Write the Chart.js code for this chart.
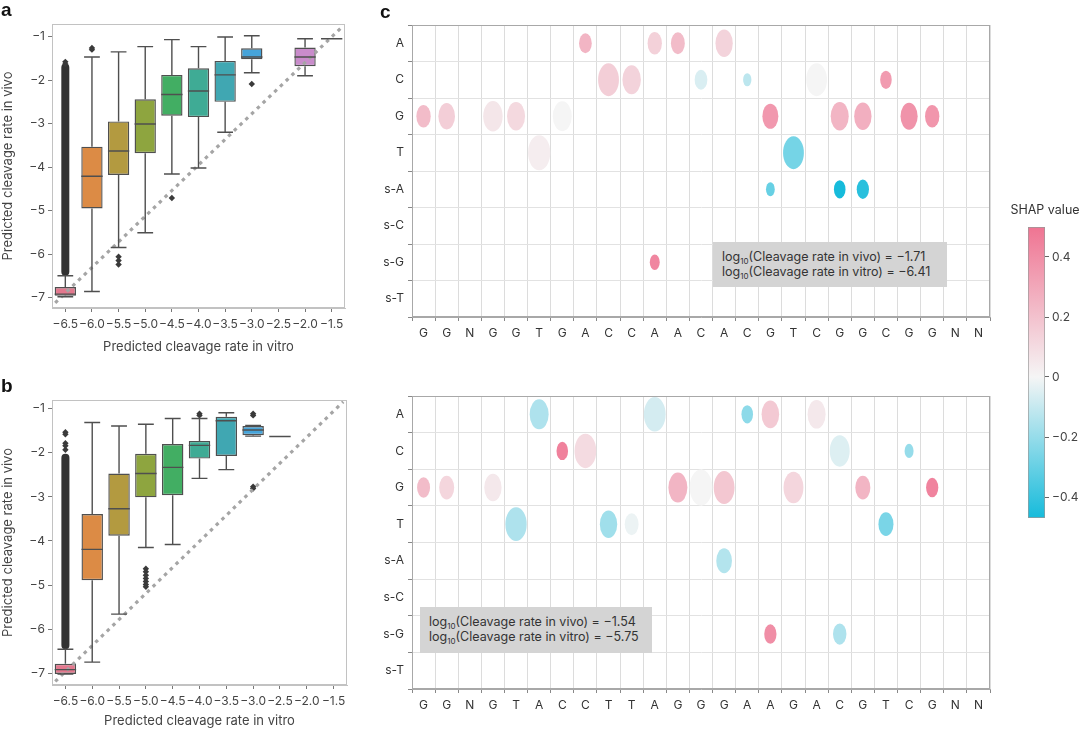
<!DOCTYPE html>
<html>
<head>
<meta charset="utf-8">
<script src="https://cdn.jsdelivr.net/npm/chart.js@4.4.0/dist/chart.umd.min.js"></script>
<style>
  body { margin: 0; background: #fff; }
  #wrap { position: relative; width: 1080px; height: 731px; overflow: hidden; font-family: Inter, "Open Sans", sans-serif; color: #333; }
  canvas { position: absolute; }
  .lbl { position: absolute; font: bold 19px "Liberation Sans", Arial, sans-serif; color: #111; line-height: 19px; }
  .note { position: absolute; background: #d4d4d4; font-size: 12.5px; line-height: 15px; color: #333; padding: 7px 0 0 9px; box-sizing: border-box; white-space: nowrap; }
  .note sub { font-size: 8px; line-height: 0; vertical-align: -3px; }
  .cbtitle { position: absolute; left: 1005px; top: 202px; width: 80px; text-align: center; font-size: 12.5px; line-height: 16px; color: #333; white-space: nowrap; }
</style>
</head>
<body>
<div id="wrap">
  <canvas id="boxA" width="360" height="365" style="left:0;top:0"></canvas>
  <canvas id="boxB" width="360" height="361" style="left:0;top:370px"></canvas>
  <canvas id="seqTop" width="620" height="345" style="left:380px;top:0"></canvas>
  <canvas id="seqBot" width="620" height="361" style="left:380px;top:370px"></canvas>
  <canvas id="cbar" width="85" height="335" style="left:995px;top:195px"></canvas>
  <div class="lbl" style="left:1px;top:0px">a</div>
  <div class="lbl" style="left:1px;top:376px">b</div>
  <div class="lbl" style="left:380px;top:2px">c</div>
  <div class="cbtitle">SHAP value</div>
  <div class="note" style="left:713px;top:242px;width:234px;height:45px">log<sub>10</sub>(Cleavage rate in vivo) = −1.71<br>log<sub>10</sub>(Cleavage rate in vitro) = −6.41</div>
  <div class="note" style="left:420px;top:607px;width:232px;height:46px">log<sub>10</sub>(Cleavage rate in vivo) = −1.54<br>log<sub>10</sub>(Cleavage rate in vitro) = −5.75</div>
</div>
<script>
// ---- box plots (a, b) ----
var vitroTicks = [-6.5, -6.0, -5.5, -5.0, -4.5, -4.0, -3.5, -3.0, -2.5, -2.0, -1.5];
var vivoTicks = [-7, -6, -5, -4, -3, -2, -1];
var boxColors = ['#e3788e', '#dc8b45', '#b39a40', '#8ea53f', '#42ae63', '#3fab95', '#40a7b2', '#46a4da', '#8f98d8', '#c98ccb', '#d886c0'];

// panel a
var aX   = [-6.5, -6.0, -5.5, -5.0, -4.5, -4.0, -3.5, -3.0, -2.0, -1.5];
var aLo  = [-6.98, -6.86, -5.85, -5.51, -4.16, -4.02, -3.20, -1.83, -1.90, -1.05];
var aQ1  = [-6.96, -4.95, -4.18, -3.68, -2.82, -2.85, -2.50, -1.52, -1.68, -1.05];
var aMed = [-6.92, -4.21, -3.63, -3.01, -2.33, -2.25, -1.88, -1.47, -1.47, -1.05];
var aQ3  = [-6.76, -3.53, -2.95, -2.44, -1.88, -1.73, -1.56, -1.27, -1.25, -1.05];
var aHi  = [-6.50, -1.47, -1.35, -1.23, -1.07, -1.23, -1.01, -0.98, -1.05, -1.05];
var aOutX = [-6.0, -6.0, -5.5, -5.5, -5.5, -4.5, -3.0, -6.5, -6.5];
var aOutY = [-1.26, -1.30, -6.06, -6.15, -6.24, -4.71, -2.09, -1.58, -1.63];
var aDenseX = [-6.5], aDenseLo = [-6.50], aDenseHi = [-1.62];
var aDiagX = [-6.69, -1.29], aDiagY = [-7.12, -0.76];

// panel b
var bX   = [-6.5, -6.0, -5.5, -5.0, -4.5, -4.0, -3.5, -3.0, -2.5];
var bLo  = [-7.02, -6.75, -5.66, -4.15, -4.08, -2.58, -2.38, -1.62, -1.63];
var bQ1  = [-7.02, -4.89, -3.88, -3.01, -2.96, -2.13, -2.07, -1.60, -1.63];
var bMed = [-6.92, -4.19, -3.27, -2.47, -2.33, -1.83, -1.27, -1.48, -1.63];
var bQ3  = [-6.79, -3.39, -2.47, -2.02, -1.80, -1.73, -1.18, -1.39, -1.63];
var bHi  = [-6.46, -1.31, -1.39, -1.35, -1.22, -1.22, -1.09, -1.38, -1.63];
var bOutX = [-6.5, -6.5, -6.5, -6.5, -6.5, -5.0, -5.0, -5.0, -5.0, -5.0, -5.0, -5.0, -4.0, -4.0, -3.0, -3.0, -3.0, -3.0];
var bOutY = [-1.53, -1.58, -1.78, -1.84, -1.93, -4.63, -4.70, -4.78, -4.85, -4.92, -4.99, -5.04, -1.11, -1.15, -1.11, -1.15, -2.77, -2.81];
var bDenseX = [-6.5], bDenseLo = [-6.46], bDenseHi = [-2.02];
var bDiagX = [-6.69, -1.32], bDiagY = [-7.19, -0.84];

// ---- panel c ----
var rowLabels = ['A', 'C', 'G', 'T', 's-A', 's-C', 's-G', 's-T'];
var seqTop = ['G','G','N','G','G','T','G','A','C','C','A','A','C','A','C','G','T','C','G','G','C','G','G','N','N'];
var seqBot = ['G','G','N','G','T','A','C','C','T','T','A','G','G','G','A','A','G','A','C','G','T','C','G','N','N'];

var topCol  = [7, 10, 11, 13,   8, 9, 12, 14, 17, 20,   0, 1, 3, 4, 6, 15, 18, 19, 21, 22,   5, 16,   15, 18, 19,   10];
var topRow  = [0, 0, 0, 0,      1, 1, 1, 1, 1, 1,       2, 2, 2, 2, 2, 2, 2, 2, 2, 2,        3, 3,    4, 4, 4,      6];
var topShap = [0.25, 0.14, 0.22, 0.13,   0.15, 0.13, -0.06, -0.12, 0.0, 0.35,   0.22, 0.15, 0.06, 0.11, 0.0, 0.36, 0.25, 0.27, 0.38, 0.37,   0.03, -0.27,   -0.30, -0.47, -0.43,   0.43];
var topSize = [0.55, 0.62, 0.60, 0.75,   0.90, 0.80, 0.55, 0.36, 0.90, 0.50,   0.62, 0.72, 0.84, 0.78, 0.82, 0.69, 0.78, 0.75, 0.74, 0.62,   0.96, 0.90,   0.38, 0.50, 0.53,   0.43];

var botCol  = [5, 10, 14, 15, 17,   6, 7, 18, 21,   0, 1, 3, 11, 12, 13, 16, 19, 22,   4, 8, 9, 20,   13,   15, 18];
var botRow  = [0, 0, 0, 0, 0,       1, 1, 1, 1,     2, 2, 2, 2, 2, 2, 2, 2, 2,         3, 3, 3, 3,    4,    6, 6];
var botShap = [-0.15, -0.07, -0.22, 0.17, 0.05,   0.45, 0.10, -0.05, -0.20,   0.22, 0.12, 0.05, 0.25, 0.0, 0.18, 0.12, 0.25, 0.44,   -0.15, -0.18, -0.02, -0.26,   -0.14,   0.40, -0.15];
var botSize = [0.82, 0.94, 0.50, 0.76, 0.78,   0.50, 0.94, 0.86, 0.39,   0.56, 0.65, 0.75, 0.82, 0.98, 0.90, 0.86, 0.65, 0.53,   0.92, 0.75, 0.60, 0.65,   0.68,   0.53, 0.58];

// colour bar
var cbMin = -0.47, cbMax = 0.5;
var cbTicks = [-0.4, -0.2, 0, 0.2, 0.4];

Chart.defaults.font.family = 'Inter, "Open Sans", sans-serif';
Chart.defaults.color = '#333';

var pinkEnd = [239, 116, 146], cyanEnd = [22, 187, 219], midCol = [245, 245, 245];
function mix(a, b, t) {
  return 'rgb(' + a.map(function (v, i) { return Math.round(v + (b[i] - v) * t); }).join(',') + ')';
}
function shapColor(v) {
  if (v >= 0) return mix(midCol, pinkEnd, Math.min(v / cbMax, 1));
  return mix(midCol, cyanEnd, Math.min(v / cbMin, 1));
}
function minus(s) { return String(s).replace('-', '\u2212'); }

var framePlugin = {
  id: 'frame',
  afterDraw: function (chart) {
    var a = chart.chartArea, ctx = chart.ctx;
    ctx.save();
    ctx.strokeStyle = chart.config.options.frameColor || '#bbb';
    ctx.lineWidth = 1;
    ctx.strokeRect(a.left + 0.5, a.top + 0.5, a.right - a.left - 1, a.bottom - a.top - 1);
    ctx.restore();
  }
};

function whiskers(s) {
  return {
    id: 'whiskers',
    afterDatasetsDraw: function (chart) {
      var ctx = chart.ctx, y = chart.scales.y;
      var meta = chart.getDatasetMeta(3);
      ctx.save();
      ctx.strokeStyle = '#4f4f4f';
      ctx.lineWidth = 1.4;
      meta.data.forEach(function (bar, i) {
        var w = bar.width, cx = bar.x;
        var yHi = y.getPixelForValue(s.hi[i]), yLo = y.getPixelForValue(s.lo[i]);
        var yQ1 = y.getPixelForValue(s.q1[i]), yQ3 = y.getPixelForValue(s.q3[i]);
        var yMed = y.getPixelForValue(s.med[i]);
        ctx.beginPath();
        ctx.moveTo(cx, yQ3); ctx.lineTo(cx, yHi);
        ctx.moveTo(cx, yQ1); ctx.lineTo(cx, yLo);
        ctx.moveTo(cx - w * 0.37, yHi); ctx.lineTo(cx + w * 0.37, yHi);
        ctx.moveTo(cx - w * 0.37, yLo); ctx.lineTo(cx + w * 0.37, yLo);
        ctx.moveTo(cx - w / 2, yMed); ctx.lineTo(cx + w / 2, yMed);
        ctx.stroke();
      });
      ctx.restore();
    }
  };
}

function boxChart(id, s, g) {
  var boxes = s.x.map(function (x, i) { return { x: x, y: [s.q1[i], s.q3[i]] }; });
  var colors = s.x.map(function (x) { return boxColors[vitroTicks.indexOf(x)]; });
  var outliers = s.outX.map(function (x, i) { return { x: x, y: s.outY[i] }; });
  var dense = s.denseX.map(function (x, i) { return { x: x, y: [s.denseLo[i], s.denseHi[i]] }; });
  var diag = s.diagX.map(function (x, i) { return { x: x, y: s.diagY[i] }; });
  return new Chart(document.getElementById(id), {
    type: 'bar',
    data: {
      datasets: [
        { type: 'line', data: diag, borderColor: '#a5a5a5', borderWidth: 3.2, borderDash: [3.5, 4.5], pointRadius: 0, order: 0 },
        { type: 'scatter', data: outliers, pointStyle: 'rectRot', pointRadius: 3.2, backgroundColor: '#3a3a3a', borderWidth: 0, order: 1 },
        { type: 'bar', data: dense, backgroundColor: '#333', barPercentage: 0.3, categoryPercentage: 1, grouped: false, borderRadius: 4, borderSkipped: false, order: 3 },
        { type: 'bar', data: boxes, backgroundColor: colors, borderColor: '#4f4f4f', borderWidth: 1.4, borderSkipped: false, barPercentage: 0.8, categoryPercentage: 1, grouped: false, order: 2 }
      ]
    },
    options: {
      responsive: false, animation: false, events: [],
      frameColor: '#c2c2c2',
      layout: { padding: { top: g.top, right: g.right, left: 0, bottom: 0 } },
      plugins: { legend: { display: false }, tooltip: { enabled: false } },
      scales: {
        x: {
          type: 'linear', min: -6.75, max: -1.25, offset: false,
          afterBuildTicks: function (sc) { sc.ticks = vitroTicks.map(function (v) { return { value: v }; }); },
          afterFit: function (sc) { sc.height = g.xh; },
          grid: { display: true, drawOnChartArea: false, offset: false, tickLength: 4, tickColor: '#777' },
          border: { color: '#c2c2c2' },
          ticks: { autoSkip: false, maxRotation: 0, padding: 5, font: { size: 12 }, color: '#444', callback: function (v) { return minus(v.toFixed(1)); } },
          title: { display: true, text: 'Predicted cleavage rate in vitro', font: { size: 13 }, color: '#444', padding: { top: 0, bottom: g.tb } }
        },
        y: {
          type: 'linear', min: g.ymin, max: g.ymax,
          afterBuildTicks: function (sc) { sc.ticks = vivoTicks.map(function (v) { return { value: v }; }); },
          afterFit: function (sc) { sc.width = 52; },
          grid: { display: true, drawOnChartArea: false, tickLength: 4, tickColor: '#777' },
          border: { color: '#c2c2c2' },
          ticks: { padding: 3, font: { size: 12 }, color: '#444', callback: function (v) { return minus(v); } },
          title: { display: true, text: 'Predicted cleavage rate in vivo', font: { size: 13 }, color: '#444', padding: { top: 0, bottom: 0 } }
        }
      }
    },
    plugins: [whiskers(s), framePlugin]
  });
}

boxChart('boxA', { x: aX, lo: aLo, q1: aQ1, med: aMed, q3: aQ3, hi: aHi, outX: aOutX, outY: aOutY,
  denseX: aDenseX, denseLo: aDenseLo, denseHi: aDenseHi, diagX: aDiagX, diagY: aDiagY },
  { top: 24, right: 15, xh: 57, tb: 10, ymin: -7.24, ymax: -0.71 });
boxChart('boxB', { x: bX, lo: bLo, q1: bQ1, med: bMed, q3: bQ3, hi: bHi, outX: bOutX, outY: bOutY,
  denseX: bDenseX, denseLo: bDenseLo, denseHi: bDenseHi, diagX: bDiagX, diagY: bDiagY },
  { top: 30, right: 13, xh: 46, tb: 2, ymin: -7.27, ymax: -0.80 });

// ellipses for the SHAP grid
var ellipsePlugin = {
  id: 'ellipses',
  afterDatasetsDraw: function (chart) {
    var ctx = chart.ctx, xs = chart.scales.x, ys = chart.scales.y;
    var cw = Math.abs(xs.getPixelForValue(1) - xs.getPixelForValue(0));
    var ch = Math.abs(ys.getPixelForValue(1) - ys.getPixelForValue(0));
    chart.data.datasets.forEach(function (ds, di) {
      chart.getDatasetMeta(di).data.forEach(function (pt, i) {
        var s = ds.sizes[i];
        ctx.beginPath();
        ctx.ellipse(pt.x, pt.y, s * cw / 2, s * ch / 2, 0, 0, 2 * Math.PI);
        ctx.fillStyle = shapColor(ds.shap[i]);
        ctx.fill();
      });
    });
  }
};

function seqChart(id, seq, col, row, shap, size, g) {
  return new Chart(document.getElementById(id), {
    type: 'scatter',
    data: { datasets: [{ data: col.map(function (c, i) { return { x: c, y: row[i] }; }), pointRadius: 0, shap: shap, sizes: size }] },
    options: {
      responsive: false, animation: false, events: [],
      frameColor: '#a8a8a8',
      layout: { padding: { top: g.top, right: 10, left: 0, bottom: 0 } },
      plugins: { legend: { display: false }, tooltip: { enabled: false } },
      scales: {
        x: {
          type: 'linear', min: -0.5, max: seq.length - 0.5,
          afterBuildTicks: function (sc) { sc.ticks = seq.map(function (_, i) { return { value: i }; }); },
          afterFit: function (sc) { sc.height = g.xh; },
          grid: { offset: true, color: '#dcdcdc', tickLength: 4, tickColor: '#888' },
          border: { color: '#a8a8a8' },
          ticks: { autoSkip: false, maxRotation: 0, padding: 5, font: { size: 12 }, color: '#333', callback: function (v) { return seq[v]; } }
        },
        y: {
          type: 'linear', reverse: true, min: -0.5, max: rowLabels.length - 0.5,
          afterBuildTicks: function (sc) { sc.ticks = rowLabels.map(function (_, i) { return { value: i }; }); },
          afterFit: function (sc) { sc.width = 32; },
          grid: { offset: true, color: '#e2e2e2', tickLength: 4, tickColor: '#888' },
          border: { color: '#a8a8a8' },
          ticks: { padding: 4, font: { size: 12 }, color: '#333', callback: function (v) { return rowLabels[v]; } }
        }
      }
    },
    plugins: [ellipsePlugin, framePlugin]
  });
}

seqChart('seqTop', seqTop, topCol, topRow, topShap, topSize, { top: 25, xh: 28 });
seqChart('seqBot', seqBot, botCol, botRow, botShap, botSize, { top: 26, xh: 42 });

// colour bar
new Chart(document.getElementById('cbar'), {
  type: 'bar',
  data: {
    labels: [''],
    datasets: [{
      data: [[cbMin, cbMax]],
      backgroundColor: function (context) {
        var chart = context.chart;
        if (!chart.chartArea) return null;
        var y = chart.scales.y;
        var g = chart.ctx.createLinearGradient(0, y.getPixelForValue(cbMin), 0, y.getPixelForValue(cbMax));
        g.addColorStop(0, shapColor(cbMin));
        g.addColorStop((0 - cbMin) / (cbMax - cbMin), shapColor(0));
        g.addColorStop(1, shapColor(cbMax));
        return g;
      },
      borderColor: '#999', borderWidth: 1, borderSkipped: false,
      barPercentage: 1, categoryPercentage: 1
    }]
  },
  options: {
    responsive: false, animation: false, events: [],
    layout: { padding: { left: 33, top: 32, bottom: 12, right: 0 } },
    plugins: { legend: { display: false }, tooltip: { enabled: false } },
    scales: {
      x: { display: false },
      y: {
        position: 'right', min: cbMin, max: cbMax,
        afterBuildTicks: function (sc) { sc.ticks = cbTicks.map(function (v) { return { value: v }; }); },
        afterFit: function (sc) { sc.width = 35; },
        grid: { drawOnChartArea: false, tickLength: 4, tickColor: '#666' },
        border: { display: false },
        ticks: { padding: 3, font: { size: 12 }, color: '#444', callback: function (v) { return v === 0 ? '0' : minus(v.toFixed(1)); } }
      }
    }
  }
});
</script>
</body>
</html>
